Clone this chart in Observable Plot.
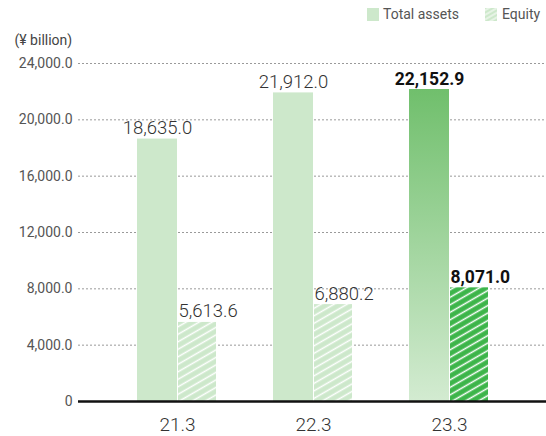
<!DOCTYPE html>
<html><head><meta charset="utf-8">
<script src="https://cdn.jsdelivr.net/npm/d3@7"></script>
<script src="https://cdn.jsdelivr.net/npm/@observablehq/plot@0.6"></script>
<style>
body{margin:0;background:#fff;font-family:Roboto,"Noto Sans",sans-serif;}
#legend{position:relative;height:28px;width:546px;font-size:14px;color:#555;}
#legend .sw{position:absolute;top:8px;width:12px;height:13px;}
#legend .lb{position:absolute;top:6px;line-height:16px;}
#chart svg{display:block;}
</style></head><body>
<div id="legend"></div>
<div id="chart"></div>
<script>
const years = ["21.3", "22.3", "23.3"];
const totalAssets = [18635.0, 21912.0, 22152.9];
const equity = [5613.6, 6880.2, 8071.0];
const yTicks = [0, 4000, 8000, 12000, 16000, 20000, 24000];
const seriesNames = ["Total assets", "Equity"];
const unitLabel = "(¥ billion)";

const LIGHT = "#cde8cb";
const fmt = d3.format(",.1f");
const tickFmt = d => d === 0 ? "0" : fmt(d);

const totalRows = years.map((y, i) => ({year: y, value: totalAssets[i], latest: i === years.length - 1,
  fill: i === years.length - 1 ? "url(#gradTotal)" : LIGHT}));
const equityRows = years.map((y, i) => ({year: y, value: equity[i], latest: i === years.length - 1,
  fill: i === years.length - 1 ? "url(#hatchDark)" : "url(#hatchLight)"}));

// legend
const legend = document.getElementById("legend");
legend.innerHTML = `
  <div class="sw" style="left:367px;background:${LIGHT}"></div>
  <div class="lb" style="left:383px">${seriesNames[0]}</div>
  <svg class="sw" style="left:485px" width="12" height="13">
    <defs><pattern id="lgHatch" patternUnits="userSpaceOnUse" width="4" height="4" patternTransform="rotate(-30)">
      <rect width="4" height="4" fill="${LIGHT}"/><line x1="0" y1="2" x2="4" y2="2" stroke="#fff" stroke-width="1"/></pattern></defs>
    <rect width="12" height="13" fill="url(#lgHatch)"/></svg>
  <div class="lb" style="left:502px">${seriesNames[1]}</div>`;

const regular = {fontSize: 18.5, fontWeight: 300, fill: "#333"};
const strong = {fontSize: 17.5, fontWeight: "bold", fill: "#111"};
const chart = Plot.plot({
  width: 546, height: 408,
  marginTop: 35, marginBottom: 35, marginLeft: 78, marginRight: 0,
  style: {fontFamily: "Roboto, 'Noto Sans', sans-serif", background: "#fff"},
  x: {domain: years, range: [109, 517], padding: 0},
  y: {domain: [0, 24000]},
  color: {type: "identity"},
  marks: [
    Plot.ruleY(yTicks.filter(d => d > 0), {stroke: "#9a9a9a", strokeDasharray: "2,2", strokeWidth: 1}),
    Plot.barY(totalRows, {x: "year", y: "value", fill: "fill", insetLeft: 28, insetRight: 68}),
    Plot.barY(equityRows, {x: "year", y: "value", fill: "fill", insetLeft: 69, insetRight: 29}),
    Plot.ruleY([0], {stroke: "#111", strokeWidth: 2.5}),
    Plot.axisY({ticks: yTicks, tickFormat: tickFmt, tickSize: 0, tickPadding: 6, fontSize: 14, label: null, color: "#555"}),
    Plot.axisX({tickSize: 0, tickPadding: 16, fontSize: 19, fontWeight: 300, label: null, color: "#333"}),
    Plot.text(totalRows, {filter: d => !d.latest, x: "year", y: "value", text: d => fmt(d.value), dx: -20, dy: -5,
      lineAnchor: "bottom", textAnchor: "middle", ...regular}),
    Plot.text(totalRows, {filter: d => d.latest, x: "year", y: "value", text: d => fmt(d.value), dx: -20, dy: -5,
      lineAnchor: "bottom", textAnchor: "middle", ...strong}),
    Plot.text(equityRows, {filter: d => !d.latest, x: "year", y: "value", text: d => fmt(d.value), dx: 1, dy: -5,
      lineAnchor: "bottom", textAnchor: "start", ...regular}),
    Plot.text(equityRows, {filter: d => d.latest, x: "year", y: "value", text: d => fmt(d.value), dx: 1, dy: -5,
      lineAnchor: "bottom", textAnchor: "start", ...strong}),
    Plot.text([unitLabel], {frameAnchor: "top-left", dx: -64, dy: -19, textAnchor: "start", lineAnchor: "bottom",
      fontSize: 14, fill: "#444"})
  ]
});

const defs = document.createElementNS("http://www.w3.org/2000/svg", "defs");
defs.innerHTML = `
  <linearGradient id="gradTotal" x1="0" y1="0" x2="0" y2="1">
    <stop offset="0" stop-color="#70bf6c"/><stop offset="1" stop-color="#d3ebd1"/>
  </linearGradient>
  <pattern id="hatchLight" patternUnits="userSpaceOnUse" width="6.5" height="6.5" patternTransform="rotate(-30)">
    <rect width="6.5" height="6.5" fill="${LIGHT}"/><line x1="0" y1="3.25" x2="6.5" y2="3.25" stroke="#fff" stroke-width="1.5"/>
  </pattern>
  <pattern id="hatchDark" patternUnits="userSpaceOnUse" width="6.5" height="6.5" patternTransform="rotate(-30)">
    <rect width="6.5" height="6.5" fill="#3db54a"/><line x1="0" y1="3.25" x2="6.5" y2="3.25" stroke="#fff" stroke-width="1.5"/>
  </pattern>`;
chart.insertBefore(defs, chart.firstChild);
document.getElementById("chart").appendChild(chart);
</script>
</body></html>
